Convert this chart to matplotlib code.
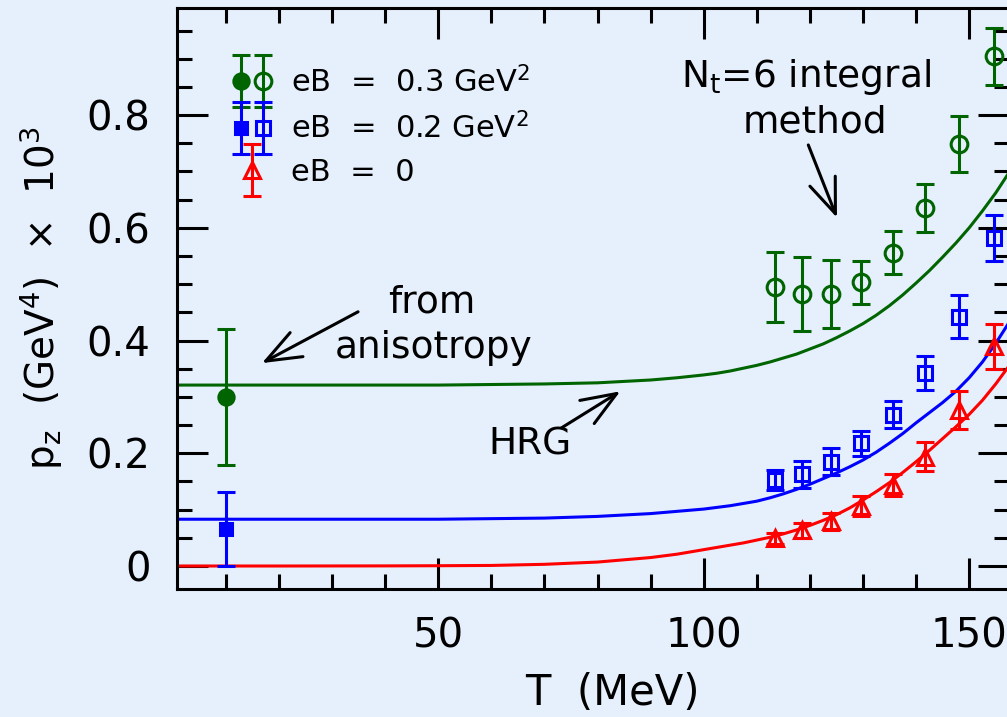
import matplotlib
matplotlib.use("Agg")
import matplotlib.pyplot as plt
from matplotlib.ticker import MultipleLocator
from matplotlib.legend_handler import HandlerTuple, HandlerErrorbar
from matplotlib.container import ErrorbarContainer

# N_t = 6 integral method (open symbols)
T_lat = [113.4, 118.5, 123.9, 129.6, 135.6, 141.6, 148.0, 154.6]
pz_eb03 = [0.495, 0.483, 0.483, 0.503, 0.556, 0.635, 0.749, 0.904]
err_eb03 = [0.062, 0.066, 0.060, 0.039, 0.038, 0.043, 0.050, 0.050]
pz_eb02 = [0.153, 0.163, 0.185, 0.218, 0.268, 0.342, 0.442, 0.582]
err_eb02 = [0.018, 0.024, 0.024, 0.022, 0.024, 0.030, 0.038, 0.041]
pz_eb0 = [0.049, 0.063, 0.079, 0.106, 0.144, 0.194, 0.277, 0.390]
err_eb0 = [0.010, 0.013, 0.015, 0.018, 0.020, 0.026, 0.034, 0.040]

# from anisotropy (filled symbols)
T_aniso = [10.0]
pz_aniso03 = [0.300]
err_aniso03 = [0.121]
pz_aniso02 = [0.066]
err_aniso02 = [0.066]

# HRG curves
T_hrg = [0.8, 20, 40, 50, 60, 70, 80, 90, 95, 100, 102.5, 105, 107.5, 110,
         112.5, 115, 117.5, 120, 122.5, 125, 127.5, 130, 132.5, 135, 137.5,
         140, 142.5, 145, 147.5, 150, 152.5, 155, 157.5]
hrg_eb03 = [0.321, 0.321, 0.321, 0.321, 0.322, 0.323, 0.325, 0.330, 0.334,
            0.339, 0.342, 0.346, 0.351, 0.356, 0.362, 0.369, 0.376, 0.385,
            0.394, 0.405, 0.417, 0.430, 0.445, 0.462, 0.481, 0.502, 0.524,
            0.548, 0.573, 0.600, 0.630, 0.662, 0.698]
hrg_eb02 = [0.083, 0.083, 0.083, 0.083, 0.084, 0.085, 0.088, 0.093, 0.097,
            0.101, 0.104, 0.107, 0.111, 0.115, 0.121, 0.128, 0.136, 0.145,
            0.155, 0.165, 0.176, 0.188, 0.202, 0.218, 0.235, 0.254, 0.272,
            0.290, 0.310, 0.334, 0.362, 0.395, 0.432]
hrg_eb0 = [0.0, 0.0, 0.0002, 0.0005, 0.001, 0.003, 0.007, 0.015, 0.021,
           0.029, 0.033, 0.037, 0.041, 0.046, 0.051, 0.057, 0.064, 0.072,
           0.081, 0.091, 0.103, 0.117, 0.132, 0.148, 0.166, 0.185, 0.205,
           0.226, 0.247, 0.269, 0.294, 0.323, 0.355]

GREEN = "#006400"
BLUE = "#0000ff"
RED = "#ff0000"
BG = "#e6f0fc"

plt.rcParams["font.family"] = ["DejaVu Sans"]
plt.rcParams["mathtext.default"] = "regular"

fig = plt.figure(figsize=(10.07, 7.17), dpi=100, facecolor=BG)
ax = fig.add_axes([177 / 1007, (717 - 589) / 717, 832 / 1007, 581 / 717])
ax.set_facecolor(BG)

ax.plot(T_hrg, hrg_eb03, color=GREEN, lw=2.2, zorder=2)
ax.plot(T_hrg, hrg_eb02, color=BLUE, lw=2.2, zorder=2)
ax.plot(T_hrg, hrg_eb0, color=RED, lw=2.2, zorder=2)

ekw = dict(linestyle="none", elinewidth=2.2, capthick=2.6, capsize=6.5,
           markeredgewidth=2.2, zorder=3)
g_fill = ax.errorbar(T_aniso, pz_aniso03, yerr=err_aniso03, fmt="o", ms=11,
                     color=GREEN, **ekw)
g_open = ax.errorbar(T_lat, pz_eb03, yerr=err_eb03, fmt="o", ms=12,
                     color=GREEN, mfc="none", **ekw)
b_fill = ax.errorbar(T_aniso, pz_aniso02, yerr=err_aniso02, fmt="s", ms=8.5,
                     color=BLUE, **ekw)
b_open = ax.errorbar(T_lat, pz_eb02, yerr=err_eb02, fmt="s", ms=9.5,
                     color=BLUE, mfc="none", **ekw)
r_open = ax.errorbar(T_lat, pz_eb0, yerr=err_eb0, fmt="^", ms=11,
                     color=RED, mfc="none", **ekw)

ax.set_xlim(0.8, 157.5)
ax.set_ylim(-0.0408, 0.990)
ax.xaxis.set_minor_locator(MultipleLocator(10))
ax.yaxis.set_minor_locator(MultipleLocator(0.05))
ax.set_xticks([50, 100, 150])
ax.set_xticklabels(["50", "100", "150"])
ax.set_yticks([0, 0.2, 0.4, 0.6, 0.8])
ax.set_yticklabels(["0", "0.2", "0.4", "0.6", "0.8"])
ax.tick_params(which="both", direction="in", top=True, right=True, width=2.2,
               colors="black", labelsize=29)
ax.tick_params(which="major", length=22)
ax.tick_params(which="minor", length=10.5)
ax.tick_params(axis="y", pad=19)
ax.tick_params(axis="x", pad=20)
for s in ax.spines.values():
    s.set_linewidth(2.2)

ax.set_xlabel("T  (MeV)", fontsize=30)
ax.xaxis.set_label_coords(0.523, -0.143)
ax.set_ylabel("p$_z$  (GeV$^4$)  ×  10$^3$", fontsize=28)
ax.yaxis.set_label_coords(-0.135, 0.5)

arrow = dict(arrowstyle="->,head_length=0.9,head_width=0.35", lw=2.2,
             color="black", mutation_scale=28, shrinkA=0, shrinkB=0)
tkw = dict(fontsize=27, ha="center", va="baseline")
ax.text(48.8, 0.449, "from", **tkw)
ax.text(49.2, 0.369, "anisotropy", **tkw)
ax.annotate("", xy=(16.8, 0.360), xytext=(34.9, 0.451), arrowprops=arrow)

ax.text(67.3, 0.197, "HRG", **tkw)
ax.annotate("", xy=(84.3, 0.310), xytext=(73.2, 0.245), arrowprops=arrow)

ax.text(119.2, 0.850, "N$_t$=6 integral", **tkw)
ax.text(121.0, 0.770, "method", **tkw)
ax.annotate("", xy=(125.1, 0.618), xytext=(119.7, 0.747), arrowprops=arrow)

handles = [(g_fill, g_open), (b_fill, b_open), r_open]
labels = ["eB  =  0.3 GeV$^2$", "eB  =  0.2 GeV$^2$", "eB  =  0"]
ax.legend(handles, labels, loc="upper left", bbox_to_anchor=(0.064, 0.901),
          frameon=False, fontsize=22, handlelength=1.45, handletextpad=0.55,
          labelspacing=0.45, borderpad=0, borderaxespad=0,
          handler_map={tuple: HandlerTuple(ndivide=None, pad=0),
                       ErrorbarContainer: HandlerErrorbar(xerr_size=0.85)})

fig.savefig("out.png", dpi=100, facecolor=BG)
